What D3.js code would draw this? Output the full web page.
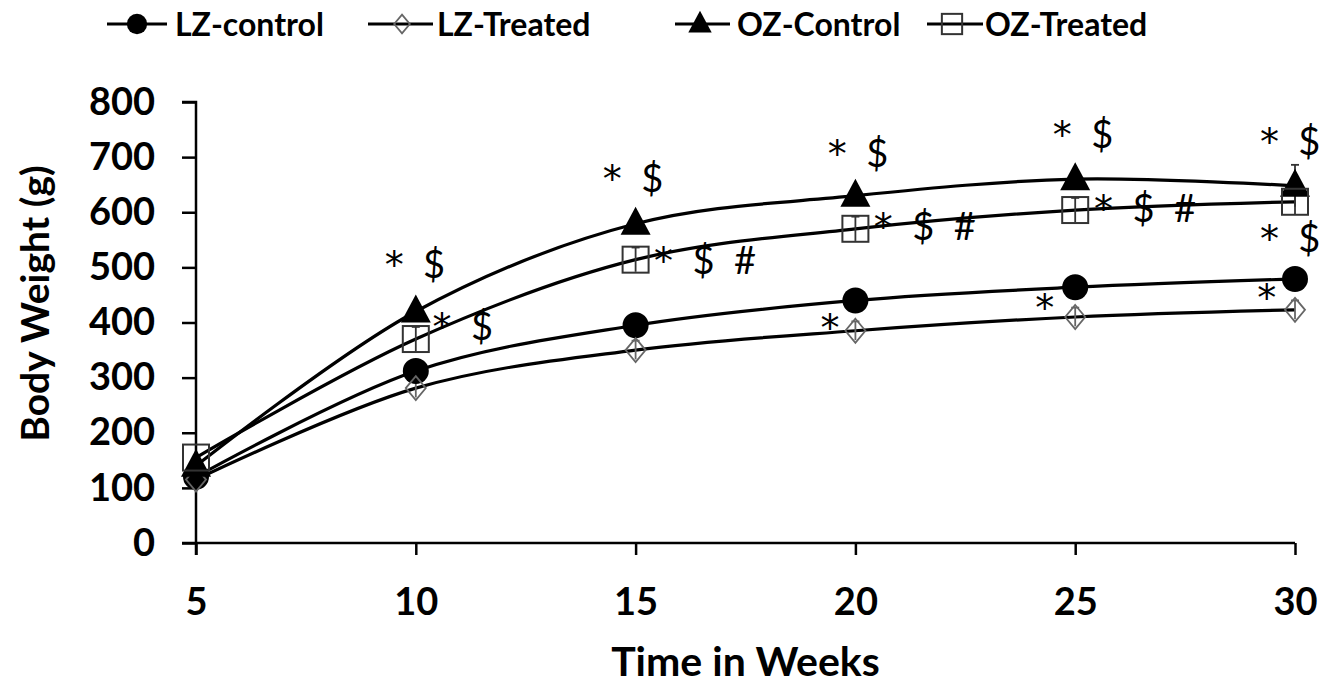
<!DOCTYPE html>
<html>
<head>
<meta charset="utf-8">
<script src="https://cdn.jsdelivr.net/npm/d3@7"></script>
<style>
  html, body { margin: 0; padding: 0; background: #fff; }
  svg { display: block; }
  text { font-family: Lato, "Open Sans", sans-serif; fill: #000; }
</style>
</head>
<body>
<svg id="chart" width="1332" height="686"></svg>
<script>
// ---------------- data ----------------
const weeks = [5, 10, 15, 20, 25, 30];
const seriesNames = ["LZ-control", "LZ-Treated", "OZ-Control", "OZ-Treated"];
const lzControl = [120, 312, 395, 440, 464, 479];
const lzTreated = [115, 281, 350, 385, 410, 423];
const ozControl = [140, 420, 579, 630, 660, 648];
const ozTreated = [155, 370, 514, 570, 604, 619];
const ozControlErr = [0, 8, 8, 8, 10, 38];
const ozTreatedErr = [0, 22, 22, 22, 22, 22];
const lzTreatedErr = [0, 17, 17, 17, 17, 17];
const yTicks = [0, 100, 200, 300, 400, 500, 600, 700, 800];
const xTicks = [5, 10, 15, 20, 25, 30];
// significance marks: week / value anchor (baseline) and text
const annoWeek  = [9.98, 11.07, 14.94, 16.58, 20.06, 21.58, 19.42, 25.18, 26.59, 24.31, 29.89, 29.89, 29.36];
const annoValue = [481, 368, 637, 488, 682, 550, 366, 716, 582, 403, 704, 528, 421];
const annoStar  = ["*", "*", "*", "*", "*", "*", "*", "*", "*", "*", "*", "*", "*"];
const annoRest  = ["  $", "  $", "  $", "  $  #", "  $", "  $  #", "", "  $", "  $  #", "", "  $", "  $", ""];

// ---------------- layout ----------------
const svg = d3.select("#chart");
const mLeft = 196, mRight = 1295, mTop = 102, mBottom = 543;

const x = d3.scaleLinear().domain([5, 30]).range([mLeft, mRight]);
const y = d3.scaleLinear().domain([0, 800]).range([mBottom, mTop]);

// axes
const yAxis = svg.append("g").attr("transform", `translate(${mLeft},0)`)
  .call(d3.axisLeft(y).tickValues(yTicks).tickSize(14).tickPadding(27).tickFormat(d3.format("d")));
const xAxis = svg.append("g").attr("transform", `translate(0,${mBottom})`)
  .call(d3.axisBottom(x).tickValues(xTicks).tickSize(12).tickPadding(33).tickFormat(d3.format("d")));
[yAxis, xAxis].forEach(a => {
  a.select(".domain").attr("stroke", "#000").attr("stroke-width", 2.5);
  a.selectAll(".tick line").attr("stroke", "#000").attr("stroke-width", 2.5);
  a.selectAll(".tick text").attr("font-size", 38).attr("font-weight", 700)
    .attr("font-family", "Lato, sans-serif").attr("fill", "#000");
});
yAxis.select(".domain").attr("d", `M-14,${y(800)}H0V${mBottom + 12}`);
xAxis.select(".domain").attr("d", `M${mLeft - 14},0H${mRight}`);

// axis titles
svg.append("text").attr("x", (mLeft + mRight) / 2).attr("y", 676)
  .attr("text-anchor", "middle").attr("font-size", 41).attr("font-weight", 700)
  .text("Time in Weeks");
svg.append("text").attr("transform", `translate(49,${(mTop + mBottom) / 2 - 19}) rotate(-90)`)
  .attr("text-anchor", "middle").attr("font-size", 39).attr("font-weight", 700)
  .text("Body Weight (g)");

// ---------------- series ----------------
const allValues = [lzControl, lzTreated, ozControl, ozTreated];
const allErr = [null, lzTreatedErr, ozControlErr, ozTreatedErr];
const line = d3.line().x((d, i) => x(weeks[i])).y(d => y(d)).curve(d3.curveCatmullRom.alpha(0.5));

function drawMarker(name, g, cx, cy, k) {
  if (name === "LZ-control")
    return g.append("circle").attr("cx", cx).attr("cy", cy).attr("r", 13 * k).attr("fill", "#000");
  if (name === "LZ-Treated")
    return g.append("path").attr("d", `M${cx},${cy - 12 * k}L${cx + 10 * k},${cy}L${cx},${cy + 12 * k}L${cx - 10 * k},${cy}Z`)
      .attr("fill", "none").attr("stroke", "#666").attr("stroke-width", 1.8);
  if (name === "OZ-Control")
    return g.append("path").attr("d", `M${cx},${cy - 17 * k}L${cx + 15 * k},${cy + 11 * k}L${cx - 15 * k},${cy + 11 * k}Z`).attr("fill", "#000");
  return g.append("rect").attr("x", cx - 13 * k).attr("y", cy - 13 * k).attr("width", 26 * k).attr("height", 26 * k)
      .attr("fill", "none").attr("stroke", "#333").attr("stroke-width", 2);
}

const plot = svg.append("g");
allValues.forEach(vals => {
  plot.append("path").datum(vals).attr("d", line)
    .attr("fill", "none").attr("stroke", "#000").attr("stroke-width", 3.2);
});
allValues.forEach((vals, s) => {
  const err = allErr[s];
  if (!err) return;
  vals.forEach((v, i) => {
    if (!err[i]) return;
    const cx = x(weeks[i]);
    plot.append("line").attr("x1", cx).attr("x2", cx).attr("y1", y(v - err[i])).attr("y2", y(v + err[i]))
      .attr("stroke", s === 1 ? "#666" : "#333").attr("stroke-width", 1.8);
    plot.append("line").attr("x1", cx - 4).attr("x2", cx + 4).attr("y1", y(v + err[i])).attr("y2", y(v + err[i]))
      .attr("stroke", s === 1 ? "#666" : "#333").attr("stroke-width", 1.8);
  });
});
allValues.forEach((vals, s) => {
  vals.forEach((v, i) => drawMarker(seriesNames[s], plot, x(weeks[i]), y(v), 1));
});

// annotations
const at = svg.append("g").selectAll("text").data(annoStar).join("text")
  .attr("x", (d, i) => x(annoWeek[i])).attr("y", (d, i) => y(annoValue[i]))
  .attr("text-anchor", "middle").attr("font-size", 38)
  .style("white-space", "pre");
at.append("tspan").attr("font-family", "'DejaVu Sans', sans-serif").text(d => d);
at.append("tspan").text((d, i) => annoRest[i]);

// ---------------- legend ----------------
const legendLineX1 = [107, 368, 675, 927];
const legendLineX2 = [167, 433, 730, 983];
const legendMarkX = [137, 402, 700, 952];
const legendTextX = [175, 437, 737, 985];
const lg = svg.append("g");
seriesNames.forEach((name, s) => {
  const ly = 24;
  lg.append("line").attr("x1", legendLineX1[s]).attr("x2", legendLineX2[s]).attr("y1", ly).attr("y2", ly)
    .attr("stroke", "#000").attr("stroke-width", 3.2);
  drawMarker(name, lg, legendMarkX[s], ly, 0.78);
  lg.append("text").attr("x", legendTextX[s]).attr("y", ly + 12).attr("font-size", 32).attr("font-weight", 700)
    .text(name);
});
</script>
</body>
</html>
